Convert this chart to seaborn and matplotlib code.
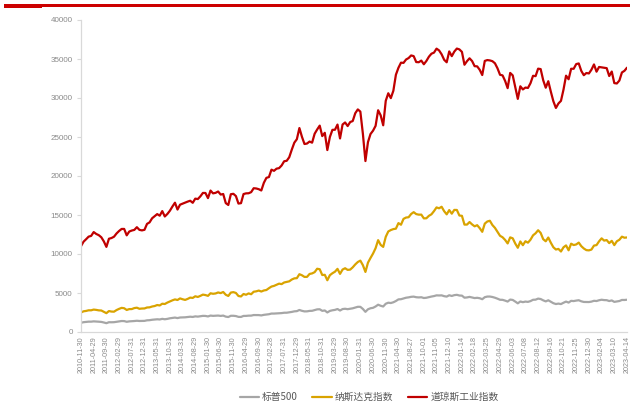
import numpy as np
import pandas as pd
import matplotlib
matplotlib.use("Agg")
import matplotlib.pyplot as plt
import seaborn as sns
from matplotlib.patches import Rectangle
from matplotlib.lines import Line2D

# ---------------- data ----------------
series_names = ["标普500", "纳斯达克指数", "道琼斯工业指数"]
series_colors = ["#A6A6A6", "#D9A300", "#C00000"]

tick_labels = [
    "2010-11-30", "2011-04-29", "2011-09-30", "2012-02-29", "2012-07-31", "2012-12-31",
    "2013-05-31", "2013-10-31", "2014-03-31", "2014-08-29", "2015-01-30", "2015-06-30",
    "2015-11-30", "2016-04-29", "2016-09-30", "2017-02-28", "2017-07-31", "2017-12-29",
    "2018-05-31", "2018-10-31", "2019-03-29", "2019-08-30", "2020-01-31", "2020-06-30",
    "2020-11-30", "2021-04-30", "2021-08-27", "2021-10-01", "2021-11-05", "2021-12-10",
    "2022-01-14", "2022-02-18", "2022-03-25", "2022-04-29", "2022-06-03", "2022-07-08",
    "2022-08-12", "2022-09-16", "2022-10-21", "2022-11-25", "2022-12-30", "2023-02-04",
    "2023-03-10", "2023-04-14",
]

dow_monthly = [
    11006, 11578,
    11892, 12226, 12320, 12811, 12570, 12414, 12143, 11614, 10913, 11955, 12046, 12218,
    12633, 12952, 13212, 13214, 12393, 12880, 13009, 13091, 13437, 13096, 13026, 13104,
    13861, 14054, 14579, 14840, 15116, 14910, 15500, 14810, 15130, 15546, 16086, 16577,
    15699, 16322, 16458, 16581, 16717, 16827, 16563, 17098, 17043, 17391, 17828, 17823,
    17165, 18133, 17776, 17841, 18011, 17620, 17690, 16528, 16285, 17664, 17720, 17425,
    16466, 16517, 17685, 17774, 17787, 17930, 18432, 18401, 18308, 18142, 19124, 19763,
    19864, 20812, 20663, 20941, 21009, 21350, 21891, 21948, 22405, 23377, 24272, 24719,
    26149, 25029, 24103, 24163, 24416, 24271, 25415, 25965, 26458, 25116, 25538, 23327,
    24999, 25916, 25929, 26593, 24815, 26600, 26864, 26403, 26917, 27046, 28051, 28538,
    28256, 25409, 21917, 24346, 25383, 25813, 26428, 28430, 27782, 26502, 29638, 30606,
    29983, 30932, 32982, 33875, 34529, 34503, 34935, 35120,
]
dow_weekly = [
    35456, 35369, 34608, 34585, 34798, 34326, 34746, 35295, 35677, 35820,
    36328, 36100, 35602, 34899, 34580, 35971, 35365, 35951, 36338, 36231,
    35912, 34265, 34725, 35089, 34738, 34079, 34059, 33615, 32944, 34755,
    34862, 34818, 34721, 34451, 33811, 32977, 32899, 32197, 31262, 33213,
    32900, 31393, 29889, 31501, 31097, 31338, 31289, 31899, 32845, 32803,
    33761, 33707, 32283, 31318, 32152, 30822, 29590, 28726, 29297, 29635,
    31083, 32862, 32403, 33748, 33746, 34347, 34430, 33477, 32921, 33204,
    33147, 33631, 34303, 33375, 33978, 33926, 33870, 33827, 32817, 33391,
    31910, 31862, 32238, 33274, 33485, 33886,
]

nasdaq_monthly = [
    2498, 2653,
    2700, 2782, 2781, 2874, 2835, 2774, 2756, 2579, 2415, 2684, 2620, 2605,
    2814, 2967, 3092, 3046, 2827, 2935, 2940, 3067, 3116, 2977, 3010, 3020,
    3142, 3160, 3268, 3329, 3456, 3403, 3626, 3590, 3771, 3920, 4060, 4177,
    4104, 4308, 4199, 4115, 4243, 4408, 4370, 4580, 4493, 4631, 4792, 4736,
    4635, 4964, 4901, 4941, 5070, 4987, 5128, 4777, 4620, 5054, 5109, 5007,
    4614, 4558, 4870, 4775, 4948, 4843, 5162, 5213, 5312, 5189, 5324, 5383,
    5615, 5825, 5912, 6048, 6199, 6140, 6348, 6429, 6496, 6728, 6874, 6903,
    7411, 7273, 7063, 7066, 7442, 7510, 7672, 8110, 8046, 7306, 7331, 6635,
    7282, 7533, 7729, 8095, 7453, 8006, 8175, 7963, 7999, 8292, 8665, 8973,
    9151, 8567, 7700, 8890, 9490, 10059, 10745, 11775, 11168, 10912, 12199, 12888,
    13071, 13192, 13247, 13962, 13749, 14504, 14673, 14715,
]
nasdaq_weekly = [
    15130, 15364, 15115, 15044, 15048, 14567, 14580, 14897, 15090, 15498,
    15971, 15860, 16057, 15491, 15085, 15630, 15170, 15653, 15645, 14936,
    14894, 13769, 13771, 14098, 13791, 13548, 13694, 13313, 12843, 13894,
    14169, 14262, 13711, 13351, 12839, 12335, 12145, 11805, 11354, 12131,
    12013, 11340, 10798, 11608, 11128, 11635, 11452, 11834, 12391, 12657,
    13047, 12705, 11902, 11631, 12112, 11448, 10868, 10576, 10652, 10321,
    10860, 11102, 10475, 11323, 11146, 11226, 11461, 11005, 10705, 10497,
    10466, 10569, 11079, 11140, 11622, 12007, 11718, 11787, 11395, 11689,
    11138, 11631, 11824, 12222, 12088, 12123,
]

sp500_monthly = [
    1181, 1258,
    1286, 1327, 1326, 1364, 1345, 1321, 1292, 1219, 1131, 1253, 1247, 1258,
    1312, 1366, 1408, 1398, 1310, 1362, 1379, 1407, 1441, 1412, 1416, 1426,
    1498, 1515, 1569, 1598, 1631, 1606, 1686, 1633, 1682, 1757, 1806, 1848,
    1783, 1859, 1872, 1884, 1924, 1960, 1931, 2003, 1972, 2018, 2068, 2059,
    1995, 2105, 2068, 2086, 2107, 2063, 2104, 1972, 1920, 2079, 2080, 2044,
    1940, 1932, 2060, 2065, 2097, 2099, 2174, 2171, 2168, 2126, 2199, 2239,
    2279, 2364, 2363, 2384, 2412, 2423, 2470, 2472, 2519, 2575, 2648, 2674,
    2824, 2714, 2641, 2648, 2705, 2718, 2816, 2902, 2914, 2712, 2760, 2507,
    2704, 2784, 2834, 2946, 2752, 2942, 2980, 2926, 2977, 3038, 3141, 3231,
    3226, 2954, 2585, 2912, 3044, 3100, 3271, 3500, 3363, 3270, 3622, 3756,
    3714, 3811, 3973, 4181, 4204, 4298, 4395, 4441,
]
sp500_weekly = [
    4509, 4535, 4459, 4433, 4455, 4357, 4391, 4471, 4545, 4605,
    4698, 4683, 4698, 4595, 4538, 4712, 4621, 4726, 4766, 4677,
    4663, 4398, 4432, 4501, 4419, 4349, 4385, 4329, 4204, 4463,
    4543, 4546, 4488, 4393, 4272, 4132, 4123, 4023, 3901, 4158,
    4109, 3901, 3675, 3912, 3825, 3899, 3863, 3962, 4130, 4145,
    4280, 4228, 4058, 3924, 4067, 3873, 3693, 3586, 3640, 3583,
    3753, 3901, 3771, 3993, 3965, 4026, 4072, 3934, 3852, 3845,
    3840, 3895, 3999, 3973, 4071, 4136, 4090, 4079, 3970, 4046,
    3862, 3917, 3971, 4109, 4105, 4137,
]

# ---------------- build table ----------------
values = {
    "标普500": sp500_monthly + sp500_weekly,
    "纳斯达克指数": nasdaq_monthly + nasdaq_weekly,
    "道琼斯工业指数": dow_monthly + dow_weekly,
}
n = len(values["道琼斯工业指数"])
frames = []
for name in series_names:
    frames.append(pd.DataFrame({"x": np.arange(n), "value": values[name], "series": name}))
df = pd.concat(frames, ignore_index=True)

# ---------------- plot ----------------
sns.set_theme(style="white")
plt.rcParams["font.family"] = ["Liberation Sans", "Noto Sans CJK SC", "DejaVu Sans"]

fig = plt.figure(figsize=(6.3, 4.05), dpi=100)
ax = fig.add_axes([81 / 630, 1 - 332 / 405, (627 - 81) / 630, (332 - 20) / 405])

sns.lineplot(data=df, x="x", y="value", hue="series", hue_order=series_names,
             palette=series_colors, linewidth=1.6, ax=ax, legend=False, sort=False)

ax.set_xlim(0, n - 1)
ax.set_ylim(0, 40000)
ax.set_yticks(np.arange(0, 40001, 5000))
ax.set_yticklabels([str(v) for v in range(0, 40001, 5000)])
tick_pos = np.arange(0, n, 5)
ax.set_xticks(tick_pos)
ax.set_xticklabels(tick_labels, rotation=90)
ax.set_xlabel("")
ax.set_ylabel("")

for side in ["top", "right"]:
    ax.spines[side].set_visible(False)
for side in ["left", "bottom"]:
    ax.spines[side].set_color("#D9D9D9")
    ax.spines[side].set_linewidth(0.9)

ax.tick_params(axis="y", which="both", left=True, length=3, width=0.8, color="#D9D9D9",
               labelsize=5.8, labelcolor="#8A8A8A", pad=3)
ax.tick_params(axis="x", which="both", bottom=False, length=0, labelsize=5.2,
               labelcolor="#8A8A8A", pad=3)
ax.grid(False)

# legend
handles = [Line2D([0], [0], color=c, lw=1.6) for c in series_colors]
leg = fig.legend(handles, series_names, loc="center", bbox_to_anchor=(369 / 630, 1 - 397 / 405),
                 ncol=3, frameon=False, handlelength=2.0, handletextpad=0.3,
                 columnspacing=1.5, prop={"family": ["Noto Sans CJK SC", "DejaVu Sans"], "size": 7})
for t in leg.get_texts():
    t.set_color("#595959")

# top decorative red bar
fig.add_artist(Rectangle((4 / 630, 1 - 7.7 / 405), 38 / 630, 3.7 / 405,
                         transform=fig.transFigure, color="#CC0000", lw=0))
fig.add_artist(Rectangle((42 / 630, 1 - 6.6 / 405), 588 / 630, 2.6 / 405,
                         transform=fig.transFigure, color="#CC0000", lw=0))

fig.savefig("out.png", dpi=100)
